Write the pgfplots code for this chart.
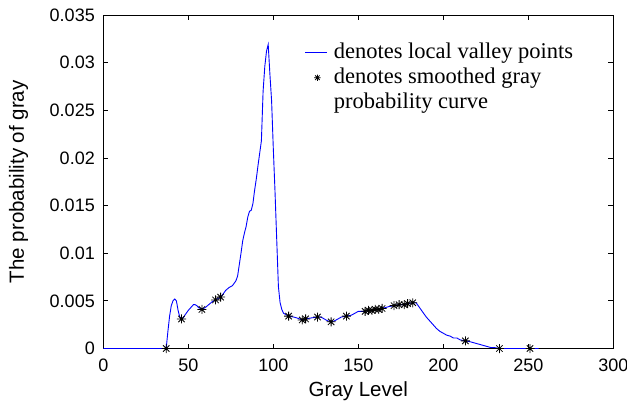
\documentclass[border=0pt]{standalone}
\usepackage{pgfplots}
\pgfplotsset{compat=1.18}
\usepackage{fontspec}
\setmainfont{Liberation Sans}
\newfontfamily\legendfont{Liberation Serif}

% eight-armed asterisk marker (plus and cross)
\pgfdeclareplotmark{mstar}{%
  \pgfpathmoveto{\pgfqpoint{-\pgfplotmarksize}{0pt}}%
  \pgfpathlineto{\pgfqpoint{\pgfplotmarksize}{0pt}}%
  \pgfpathmoveto{\pgfqpoint{0pt}{-\pgfplotmarksize}}%
  \pgfpathlineto{\pgfqpoint{0pt}{\pgfplotmarksize}}%
  \pgfpathmoveto{\pgfqpoint{-0.707\pgfplotmarksize}{-0.707\pgfplotmarksize}}%
  \pgfpathlineto{\pgfqpoint{0.707\pgfplotmarksize}{0.707\pgfplotmarksize}}%
  \pgfpathmoveto{\pgfqpoint{-0.707\pgfplotmarksize}{0.707\pgfplotmarksize}}%
  \pgfpathlineto{\pgfqpoint{0.707\pgfplotmarksize}{-0.707\pgfplotmarksize}}%
  \pgfusepathqstroke}

\pgfplotsset{
  linelegend/.style={legend image code/.code={\draw[##1] (0bp,0bp) -- (22bp,0bp);}},
  starlegend/.style={legend image code/.code={\draw[##1, mark size=3.2bp] plot coordinates {(12bp,0bp)};}},
}

\begin{document}
\begin{tikzpicture}
\begin{axis}[
  scale only axis,
  width=510bp, height=333.5bp,
  xmin=0, xmax=300, ymin=0, ymax=0.035,
  xtick={0,50,...,300},
  xticklabels={0,50,100,150,200,250,300},
  ytick={0,0.005,0.01,0.015,0.02,0.025,0.03,0.035},
  yticklabels={0,0.005,0.01,0.015,0.02,0.025,0.03,0.035},
  scaled y ticks=false,
  tick align=inside,
  major tick length=5bp,
  axis line style={line width=0.8bp},
  every tick/.style={black, line width=0.8bp},
  tick label style={font=\fontsize{18bp}{20bp}\selectfont},
  xticklabel style={yshift=-7bp},
  yticklabel style={xshift=-5bp},
  label style={font=\fontsize{20.5bp}{23bp}\selectfont},
  xlabel={Gray Level},
  ylabel={The probability of gray},
  xlabel style={at={(axis description cs:0.5,-0.1454)}, anchor=base},
  ylabel style={at={(axis description cs:-0.1555,0.5)}, anchor=base},
  legend cell align=left,
  legend style={
    draw=none, fill=none, inner sep=0pt,
    row sep=0pt, column sep=4bp,
    at={(0.395,0.925)}, anchor=north west,
    font=\legendfont\fontsize{22.5bp}{25bp}\selectfont,
    nodes={inner sep=2bp, text height=16bp, text depth=5bp},
  },
]
% gray-level probability curve
\addplot[blue, line width=0.9bp, linelegend]
coordinates {
(0,0) (36,0) (37,0) (38,0.0018) (39,0.0034) (40,0.0045) (41,0.0050)
(42,0.0052) (43,0.0050) (44,0.0040) (45,0.0033) (46,0.0031) (47,0.0032)
(48,0.0035) (50,0.0040) (52,0.0044) (53,0.0046) (54,0.0046) (55,0.0045)
(56,0.0043) (58,0.0041) (60,0.0043) (62,0.0046) (64,0.0049) (66,0.0051)
(68,0.0053) (69,0.0054) (70,0.0056) (72,0.0061) (74,0.0064) (76,0.0066)
(78,0.0071) (79,0.0076) (80,0.0088) (81,0.0100) (82,0.0113) (83,0.0121)
(84,0.0128) (85,0.0138) (86,0.0144) (87,0.0145) (88,0.0152) (89,0.0166)
(90,0.0178) (91,0.0192) (92,0.0205) (93,0.0218) (94,0.0270) (95,0.0296)
(96,0.0312) (97,0.0319) (98,0.0288) (99,0.0260) (100,0.0210) (101,0.0165)
(102,0.0115) (103,0.0065) (104,0.0048) (105,0.0041) (106,0.0037)
(108,0.0035) (109,0.0034) (112,0.0033) (114,0.0032) (117,0.0030)
(119,0.0031) (122,0.0032) (126,0.0033) (128,0.0033) (130,0.0031)
(132,0.0029) (134,0.0028) (136,0.0029) (138,0.0031) (140,0.0033)
(143,0.0034) (146,0.0035) (148,0.0037) (150,0.0039) (152,0.0039)
(154,0.0039) (156,0.0040) (158,0.0040) (160,0.0041) (162,0.0041)
(164,0.0042) (166,0.0043) (168,0.0044) (171,0.0045) (174,0.0046)
(177,0.0046) (179,0.0047) (182,0.0048) (184,0.0048) (186,0.0043)
(188,0.0038) (190,0.0033) (192,0.0029) (194,0.0025) (196,0.0021)
(198,0.0018) (200,0.0016) (202,0.0014) (204,0.0013) (206,0.0011)
(208,0.0011) (210,0.0009) (213,0.0008) (216,0.0007) (218,0.0006)
(220,0.0005) (222,0.0004) (224,0.0003) (226,0.0002) (228,0.0001)
(230,0.0001) (233,0) (240,0) (251,0) (256,0)
};
\addlegendentry{denotes local valley points}
% smoothed valley points
\addplot[only marks, black, mark=mstar, mark size=4.5bp,
  mark options={line width=0.8bp}, starlegend]
coordinates {
(37,0) (46,0.0031) (58,0.0041) (66,0.0051) (69,0.0054)
(109,0.0034) (117,0.0030) (119,0.0031) (126,0.0033) (134,0.0028)
(143,0.0034) (154,0.0039) (156,0.0040) (158,0.0040) (160,0.0041)
(162,0.0041) (164,0.0042) (171,0.0045) (174,0.0046) (177,0.0046)
(179,0.0047) (182,0.0048) (213,0.0008) (233,0) (251,0)
};
\addlegendentry{denotes smoothed gray}
\addlegendimage{empty legend}
\addlegendentry{probability curve}
\end{axis}
\pgfresetboundingbox
\useasboundingbox (current axis.south west) ++(-103.3bp,-59.5bp) rectangle ++(627bp,408bp);
\end{tikzpicture}
\end{document}
